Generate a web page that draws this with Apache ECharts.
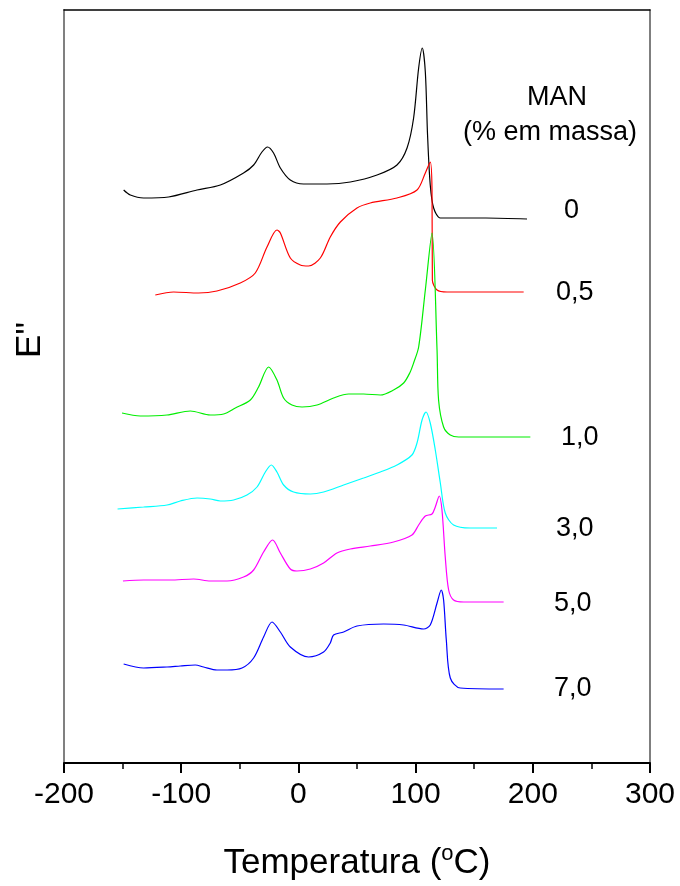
<!DOCTYPE html>
<html>
<head>
<meta charset="utf-8">
<script src="https://cdn.jsdelivr.net/npm/echarts@6/dist/echarts.min.js"></script>
<style>html,body{margin:0;padding:0;background:#fff}#c{width:680px;height:886px}</style>
</head>
<body>
<div id="c"></div>
<script>
// Temperature (°C) and E'' (arbitrary units, offset curves)
const man0 = [[-149.1,573],[-143.4,568],[-132.1,565],[-110.8,566],[-86.5,573],[-66.6,578],[-46.8,590],[-38.2,598],[-31.1,611],[-26.3,616],[-21.2,610],[-15.4,595],[-6.9,583],[4.4,579],[24.4,579],[44.3,581],[67.1,588],[84.1,598],[92.7,615],[98.3,645],[102.6,695],[105.7,715],[108.3,691],[110.2,628],[112.5,578],[115.4,555],[121.1,545],[129.6,545],[160,545],[195.1,544]];
const man05 = [[-122.1,468],[-106.5,471],[-85.2,470],[-69.5,472],[-49.6,480],[-36.8,490],[-26.8,516],[-18.3,533],[-15.4,530],[-6.9,505],[1.6,498],[8.7,497],[18.7,505],[27.2,526],[35.8,541],[50,555],[61.3,560],[84.1,565],[101.2,573],[108.3,590],[112.5,601],[114.0,573],[114.3,483],[118.3,473],[126.8,471],[160,471],[192.2,471]];
const man10 = [[-150.5,350],[-134.9,347],[-112.1,348],[-92.2,352],[-75.2,348],[-63.8,349],[-53.8,355],[-41.0,363],[-34.0,376],[-25.4,396],[-18.3,383],[-12.6,365],[-5.5,358],[3.1,356],[15.9,358],[30.0,365],[42.8,369],[55.6,369],[69.9,368],[81.2,373],[89.8,380],[95.0,390],[98.3,400],[102.6,416],[108.3,473],[114.0,530],[118.3,413],[119.6,363],[123.9,336],[129.6,328],[136.7,326],[197.9,326]];
const man30 = [[-154.3,254],[-132.1,256],[-112.1,258],[-100.8,262],[-86.5,265],[-75.2,264],[-66.6,262],[-55.3,263],[-43.9,268],[-35.3,276],[-28.2,291],[-23.1,298],[-18.3,291],[-12.6,278],[-4.1,271],[10.2,269],[21.5,271],[38.6,278],[55.6,285],[69.9,291],[84.1,298],[96.9,308],[101.2,320],[105.5,343],[108.9,351],[112.5,340],[116.8,313],[121.1,280],[125.3,250],[132.4,238],[146.7,235],[169.5,235]];
const man50 = [[-149.7,182],[-132.1,183],[-109.3,183],[-89.4,184],[-75.2,182],[-60.9,182],[-46.8,186],[-38.2,193],[-29.7,211],[-22.0,223],[-15.4,210],[-6.9,194],[-1.2,192],[10.2,194],[21.5,200],[32.9,210],[44.3,214],[61.3,217],[81.2,221],[96.9,228],[102.6,238],[108.3,247],[114.0,249],[116.8,256],[120.2,267],[122.5,253],[125.3,206],[128.2,173],[132.4,163],[141.0,161],[175.1,161]];
const man70 = [[-149.1,99],[-132.1,95],[-112.1,96],[-100.8,97],[-88.0,98],[-80.9,96],[-69.5,93],[-60.9,93],[-48.1,95],[-38.2,105],[-29.7,126],[-22.5,141],[-15.4,131],[-6.9,116],[8.7,106],[21.5,111],[27.2,120],[30.0,128],[38.6,131],[50.0,137],[72.7,139],[89.8,138],[106.8,134],[112.5,138],[118.3,160],[121.9,173],[123.9,163],[126.2,123],[129.6,85],[138.1,75],[175.1,74]];
const seriesNames = ['0','0,5','1,0','3,0','5,0','7,0'];
const seriesColors = ['#000000','#ff0000','#00ee00','#00ffff','#ff00ff','#0000ff'];
const xTicks = [-200,-100,0,100,200,300];

const chart = echarts.init(document.getElementById('c'));
const datasets = [man0, man05, man10, man30, man50, man70];
const FONT = 'Liberation Sans, Arial, sans-serif';
chart.setOption({
  animation: false,
  backgroundColor: '#fff',
  grid: {left: 64, right: 30, top: 10, bottom: 123},
  xAxis: [{
    type: 'value', min: -200, max: 300, interval: 100, position: 'bottom',
    axisLine: {show: true, onZero: false, lineStyle: {color: '#000', width: 2}},
    axisTick: {show: true, inside: false, length: 10, lineStyle: {color: '#000', width: 2}},
    minorTick: {show: true, splitNumber: 2, length: 6, lineStyle: {color: '#000', width: 1.5}},
    splitLine: {show: false},
    axisLabel: {color: '#000', fontSize: 30, fontFamily: FONT, margin: 17,
      formatter: v => xTicks.includes(v) ? String(v) : ''},
    name: '{a|Temperatura (}{s|o}{a|C)}', nameLocation: 'middle', nameGap: 80,
    nameTextStyle: {rich: {a: {fontSize: 35, fontFamily: FONT, color: '#000'}, s: {fontSize: 22, fontFamily: FONT, color: '#000', verticalAlign: 'top', padding: [0,0,18,0]}}}
  }, {
    type: 'value', min: -200, max: 300, position: 'top',
    axisLine: {show: true, onZero: false, lineStyle: {color: '#000', width: 1.5}},
    axisTick: {show: false}, axisLabel: {show: false}, splitLine: {show: false}
  }],
  yAxis: [{
    type: 'value', min: 0, max: 753, position: 'left',
    axisLine: {show: true, onZero: false, lineStyle: {color: '#808080', width: 2}},
    axisTick: {show: false}, axisLabel: {show: false}, splitLine: {show: false}
  }, {
    type: 'value', min: 0, max: 753, position: 'right',
    axisLine: {show: true, onZero: false, lineStyle: {color: '#555', width: 1.5}},
    axisTick: {show: false}, axisLabel: {show: false}, splitLine: {show: false}
  }],
  series: datasets.map((d, i) => ({
    name: seriesNames[i], type: 'line', data: d, xAxisIndex: 0, yAxisIndex: 0,
    showSymbol: false, smooth: 0.3,
    lineStyle: {color: seriesColors[i], width: 1.2}
  })),
  graphic: [
    {type: 'text', x: 30, y: 340, rotation: Math.PI / 2,
      style: {text: 'E"', font: '35px ' + FONT, fill: '#000', align: 'center', verticalAlign: 'middle'}},
    {type: 'text', left: 527, top: 84, style: {text: 'MAN', font: '27px ' + FONT, fill: '#000'}},
    {type: 'text', left: 463, top: 119, style: {text: '(% em massa)', font: '27px ' + FONT, fill: '#000'}},
    {type: 'text', left: 564, top: 197, style: {text: '0', font: '27px ' + FONT, fill: '#000'}},
    {type: 'text', left: 556, top: 279, style: {text: '0,5', font: '27px ' + FONT, fill: '#000'}},
    {type: 'text', left: 561, top: 424, style: {text: '1,0', font: '27px ' + FONT, fill: '#000'}},
    {type: 'text', left: 556, top: 515, style: {text: '3,0', font: '27px ' + FONT, fill: '#000'}},
    {type: 'text', left: 554, top: 590, style: {text: '5,0', font: '27px ' + FONT, fill: '#000'}},
    {type: 'text', left: 554, top: 675, style: {text: '7,0', font: '27px ' + FONT, fill: '#000'}}
  ]
});
</script>
</body>
</html>
